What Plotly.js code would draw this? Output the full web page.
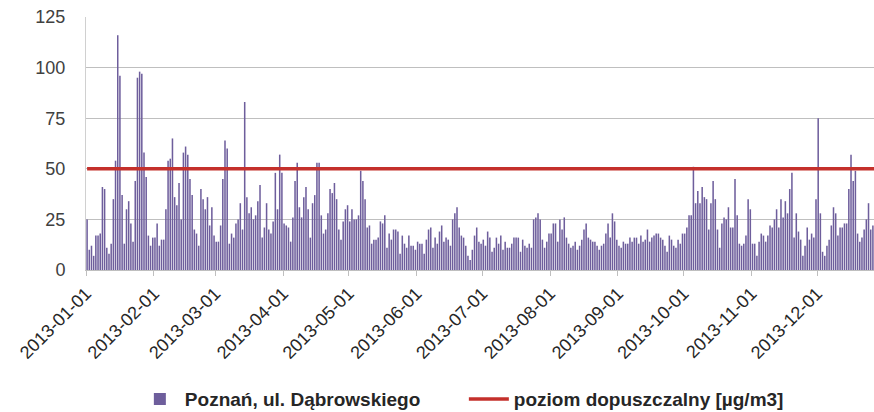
<!DOCTYPE html>
<html>
<head>
<meta charset="utf-8">
<script src="https://cdn.plot.ly/plotly-3.0.1.min.js"></script>
<style>html,body{margin:0;padding:0;background:#fff;}#chart{width:874px;height:412px;}</style>
</head>
<body>
<div id="chart"></div>
<script>
// Daily PM10 values, Poznań ul. Dąbrowskiego, 2013
const jan = [25,10,12,7,17,17,18,41,40,11,8,13,35,54,116,96,37,13,30,34,23,14,44,95,98,97,58,46,17,12,16];
const feb = [16,23,12,15,15,30,54,55,65,36,32,43,25,58,61,57,45,37,20,18,12,40,35,30,36,22,31,17];
const mar = [14,14,22,45,64,60,13,18,16,23,25,33,20,83,36,28,31,25,27,34,42,16,21,33,20,18,24,48,30,57,48];
const apr = [23,22,21,14,26,44,53,31,26,36,41,30,16,33,37,53,53,27,18,20,28,40,38,43,35,20,15,24,30,32];
const may = [24,30,25,25,27,49,44,35,21,22,13,15,15,16,24,23,27,11,18,15,20,20,19,8,17,13,11,17,12,12,10];
const jun = [14,13,13,8,15,20,21,11,16,13,19,22,14,16,15,12,25,28,31,21,17,16,12,7,5,10,17,21,14,13];
const jul = [15,12,19,16,9,11,16,13,17,10,14,11,11,13,16,16,16,9,15,12,11,13,11,25,26,28,25,15,11,14,18];
const aug = [18,23,23,14,25,20,26,16,13,11,12,14,10,12,15,20,23,16,15,14,14,12,10,12,13,18,23,16,28,24,15];
const sep = [12,11,14,13,13,16,14,16,16,13,17,14,15,20,14,16,17,18,18,16,15,12,9,17,15,12,11,15,13,18];
const oct = [18,21,27,27,51,33,39,33,41,36,35,20,33,44,35,20,11,23,26,25,31,21,21,45,27,13,12,13,17,35,30];
const nov = [13,13,7,14,18,17,14,17,22,21,25,30,21,35,26,34,28,40,48,16,28,19,15,7,12,21,15,18,16,35];
const dec = [75,28,9,7,12,15,22,31,28,17,21,21,23,23,40,57,44,49,18,14,16,20,25,33,20,22,25,18,30,24,20];

const months = [jan,feb,mar,apr,may,jun,jul,aug,sep,oct,nov,dec];
const monthTicks = ['2013-01-01','2013-02-01','2013-03-01','2013-04-01','2013-05-01','2013-06-01',
                    '2013-07-01','2013-08-01','2013-09-01','2013-10-01','2013-11-01','2013-12-01'];
const limitValue = 50;
const seriesName = 'Poznań, ul. Dąbrowskiego';
const limitName = 'poziom dopuszczalny [µg/m3]';

const pad = n => (n < 10 ? '0' : '') + n;
const dates = [], values = [];
months.forEach((arr, m) => arr.forEach((v, d) => {
  dates.push('2013-' + pad(m + 1) + '-' + pad(d + 1));
  values.push(v);
}));

const font = 'Liberation Sans, Arial, sans-serif';

const traces = [
  {
    type: 'bar', x: dates, y: values, name: seriesName,
    xperiod: 86400000, xperiodalignment: 'middle',
    marker: {color: '#6e5e9c', line: {width: 0}}
  },
  {
    type: 'scatter', mode: 'lines', x: dates, y: dates.map(() => limitValue), name: limitName,
    xperiod: 86400000, xperiodalignment: 'middle',
    line: {color: '#c4302b', width: 3.5}
  }
];

const layout = {
  width: 874, height: 412,
  margin: {l: 86, r: 0, t: 17, b: 142, autoexpand: false},
  paper_bgcolor: '#ffffff', plot_bgcolor: '#ffffff',
  bargap: 0.3,
  showlegend: true,
  legend: {
    orientation: 'h', x: 0.062, xanchor: 'left', y: -0.51, yanchor: 'middle',
    font: {family: font, size: 19, color: '#262626', weight: 'bold'},
    entrywidth: 274, itemwidth: 40, traceorder: 'normal'
  },
  xaxis: {
    type: 'date', range: ['2013-01-01', '2013-12-27'],
    tickmode: 'array', tickvals: monthTicks, ticktext: monthTicks,
    tickangle: -45, ticks: 'outside', ticklen: 5, tickcolor: '#bfbfbf',
    tickfont: {family: font, size: 18, color: '#262626'},
    showgrid: false, showline: true, linecolor: '#bfbfbf', linewidth: 1,
    zeroline: false, fixedrange: true, automargin: false
  },
  yaxis: {
    range: [0, 125], tickmode: 'linear', tick0: 0, dtick: 25,
    showgrid: true, gridcolor: '#bfbfbf', gridwidth: 1,
    showline: true, linecolor: '#d0d0d0', linewidth: 1,
    zeroline: false, ticks: '', ticklabelstandoff: 16,
    tickfont: {family: font, size: 18, color: '#404040'}, fixedrange: true, automargin: false
  }
};

Plotly.newPlot('chart', traces, layout, {displayModeBar: false, staticPlot: true});
</script>
</body>
</html>
